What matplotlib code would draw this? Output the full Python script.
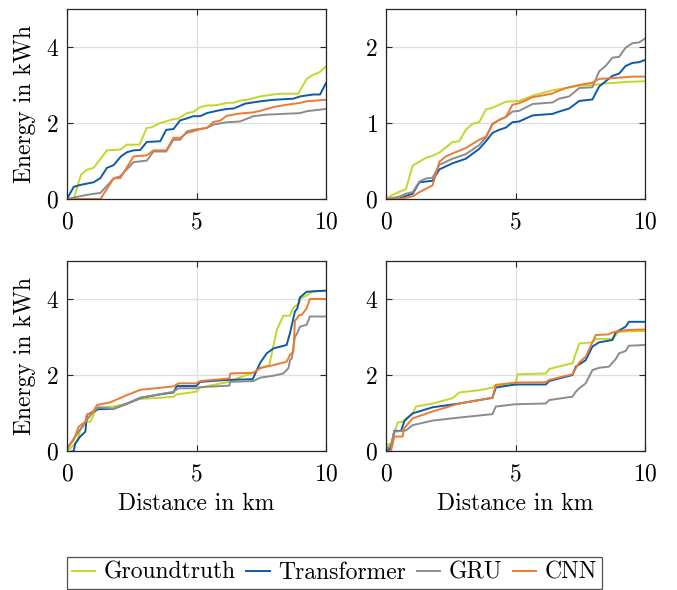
import matplotlib.pyplot as plt

# ---- data (distance in km, energy in kWh) ----
# panel 1 (top left)
gt1_x = [0, 0.26, 0.54, 0.77, 1.03, 1.54, 2.06, 2.31, 2.8, 3.08, 3.28, 3.6, 4.11, 4.3, 4.63, 4.88,
         5.14, 5.4, 5.78, 6.17, 6.43, 6.68, 6.94, 7.46, 7.97, 8.23, 8.93, 9.25, 9.51, 9.74, 10]
gt1_y = [0, 0, 0.64, 0.77, 0.82, 1.28, 1.30, 1.43, 1.43, 1.87, 1.89, 2.0, 2.1, 2.12, 2.26, 2.29,
         2.42, 2.46, 2.47, 2.53, 2.53, 2.59, 2.61, 2.7, 2.75, 2.77, 2.77, 3.16, 3.27, 3.33, 3.49]
tr1_x = [0, 0.26, 0.51, 1.03, 1.29, 1.54, 1.8, 2.08, 2.31, 2.57, 2.83, 3.08, 3.6, 3.83, 4.11, 4.37,
         4.63, 4.88, 5.14, 5.4, 5.78, 6.17, 6.43, 6.88, 7.46, 7.97, 8.74, 9.0, 9.51, 9.77, 10]
tr1_y = [0, 0.32, 0.37, 0.44, 0.55, 0.82, 0.89, 1.12, 1.23, 1.28, 1.29, 1.5, 1.52, 1.82, 1.84, 2.07,
         2.12, 2.18, 2.18, 2.26, 2.32, 2.37, 2.38, 2.51, 2.57, 2.61, 2.64, 2.7, 2.75, 2.75, 3.05]
gru1_x = [0, 0.77, 1.29, 1.8, 2.06, 2.57, 3.08, 3.34, 3.83, 4.11, 4.37, 4.63, 4.88, 5.4, 5.66,
          6.17, 6.68, 7.2, 7.71, 9.0, 9.25, 10]
gru1_y = [0, 0.11, 0.16, 0.54, 0.6, 0.97, 1.01, 1.25, 1.25, 1.56, 1.56, 1.78, 1.82, 1.87, 1.96,
          2.02, 2.04, 2.18, 2.22, 2.26, 2.31, 2.37]
cnn1_x = [0, 1.29, 1.8, 2.06, 2.57, 3.08, 3.34, 3.83, 4.11, 4.37, 4.63, 4.88, 5.14, 5.4, 5.66, 5.91,
          6.17, 6.68, 7.2, 7.46, 7.97, 8.48, 9.0, 9.25, 9.77, 10]
cnn1_y = [0, 0, 0.54, 0.55, 1.12, 1.15, 1.28, 1.28, 1.61, 1.61, 1.74, 1.78, 1.84, 1.87, 2.03, 2.06,
          2.19, 2.25, 2.28, 2.32, 2.42, 2.48, 2.53, 2.57, 2.6, 2.61]

# panel 2 (top right)
gt2_x = [0, 0.26, 0.77, 1.03, 1.54, 1.8, 2.06, 2.57, 2.83, 3.08, 3.34, 3.6, 3.86, 4.11, 4.63, 5.14,
         5.66, 6.43, 6.94, 7.46, 7.97, 8.48, 9.25, 10]
gt2_y = [0, 0.057, 0.13, 0.44, 0.54, 0.57, 0.61, 0.75, 0.76, 0.91, 0.99, 1.01, 1.18, 1.2, 1.28, 1.29,
         1.36, 1.43, 1.46, 1.49, 1.5, 1.52, 1.54, 1.55]
tr2_x = [0, 0.51, 0.77, 1.03, 1.29, 1.8, 2.06, 2.57, 3.08, 3.6, 3.86, 4.11, 4.37, 4.63, 4.88, 5.14,
         5.66, 6.43, 6.68, 7.07, 7.46, 7.97, 8.23, 8.74, 9.0, 9.25, 9.51, 9.77, 10]
tr2_y = [0, 0.005, 0.04, 0.07, 0.22, 0.24, 0.39, 0.47, 0.53, 0.66, 0.76, 0.87, 0.91, 0.94, 1.01, 1.02,
         1.1, 1.12, 1.15, 1.19, 1.29, 1.31, 1.48, 1.62, 1.65, 1.75, 1.79, 1.8, 1.83]
gru2_x = [0, 0.51, 0.77, 1.03, 1.29, 1.54, 1.8, 2.06, 2.57, 3.08, 3.6, 3.86, 4.11, 4.37, 4.63, 4.88,
          5.14, 5.66, 6.43, 6.68, 7.07, 7.46, 7.97, 8.23, 8.48, 8.74, 9.0, 9.25, 9.51, 9.77, 10]
gru2_y = [0, 0.03, 0.07, 0.09, 0.23, 0.27, 0.28, 0.45, 0.53, 0.59, 0.71, 0.81, 0.99, 1.04, 1.08, 1.15,
          1.16, 1.25, 1.27, 1.32, 1.35, 1.46, 1.47, 1.68, 1.75, 1.86, 1.87, 1.99, 2.05, 2.06, 2.11]
cnn2_x = [0, 0.51, 1.03, 1.29, 1.8, 2.06, 2.31, 2.57, 3.08, 3.6, 3.86, 4.11, 4.37, 4.63, 4.88, 5.14,
          5.66, 6.17, 6.43, 6.94, 7.46, 7.97, 8.23, 8.74, 9.51, 10]
cnn2_y = [0, 0, 0.035, 0.09, 0.18, 0.49, 0.56, 0.6, 0.67, 0.78, 0.82, 0.98, 1.04, 1.08, 1.24, 1.26,
          1.34, 1.37, 1.39, 1.46, 1.5, 1.53, 1.58, 1.59, 1.61, 1.61]

# panel 3 (bottom left)
gt3_x = [0, 0.13, 0.39, 0.51, 0.77, 0.9, 1.16, 1.8, 2.31, 2.83, 3.6, 4.11, 4.24, 4.99, 5.14, 5.66,
         6.27, 6.68, 7.2, 7.46, 7.81, 8.1, 8.35, 8.6, 8.74, 8.97, 9.02, 9.25, 9.51, 10]
gt3_y = [0, 0.07, 0.25, 0.55, 0.77, 0.77, 1.14, 1.17, 1.25, 1.37, 1.4, 1.43, 1.49, 1.56, 1.67, 1.74,
         1.82, 1.94, 2.06, 2.19, 2.26, 3.18, 3.56, 3.56, 3.77, 3.89, 4.02, 4.09, 4.21, 4.22]
tr3_x = [0, 0.26, 0.32, 0.51, 0.71, 0.77, 1.03, 1.22, 1.8, 2.31, 2.83, 3.6, 4.11, 4.24, 4.99, 5.14,
         6.17, 7.17, 7.46, 7.71, 7.97, 8.48, 8.61, 8.8, 8.89, 8.99, 9.25, 10]
tr3_y = [-0.04, 0, 0.2, 0.38, 0.51, 0.95, 1.04, 1.1, 1.11, 1.24, 1.4, 1.49, 1.54, 1.71, 1.71, 1.82,
         1.87, 1.89, 2.32, 2.57, 2.7, 2.79, 3.1, 3.67, 3.75, 4.04, 4.19, 4.22]
gru3_x = [0, 0.19, 0.45, 0.77, 1.03, 1.22, 1.8, 2.31, 2.83, 4.11, 4.3, 4.99, 5.14, 6.27, 6.3, 7.2,
          7.46, 7.97, 8.35, 8.55, 8.61, 8.68, 8.8, 8.89, 8.99, 9.25, 9.38, 10]
gru3_y = [0.03, 0.25, 0.51, 0.82, 1.04, 1.15, 1.11, 1.25, 1.4, 1.56, 1.65, 1.65, 1.68, 1.72, 1.82, 1.84,
          1.93, 1.98, 2.04, 2.18, 2.39, 2.44, 3.0, 3.1, 3.27, 3.32, 3.54, 3.54]
cnn3_x = [0, 0.26, 0.45, 0.71, 0.77, 0.96, 1.16, 1.67, 2.31, 2.83, 4.11, 4.3, 4.99, 5.14, 6.27, 6.3,
          7.2, 7.46, 7.97, 8.48, 8.61, 8.74, 8.8, 8.97, 9.06, 9.25, 9.38, 10]
cnn3_y = [0.09, 0.29, 0.64, 0.77, 0.96, 0.99, 1.21, 1.28, 1.47, 1.61, 1.7, 1.78, 1.78, 1.84, 1.91, 2.04,
          2.06, 2.18, 2.26, 2.35, 2.53, 2.61, 3.42, 3.58, 3.58, 3.75, 4.0, 4.0]

# panel 4 (bottom right)
gt4_x = [0, 0.06, 0.26, 0.32, 0.45, 0.64, 0.77, 1.03, 1.16, 1.8, 2.57, 2.83, 3.6, 4.11, 4.24, 4.99,
         5.08, 6.17, 6.3, 7.2, 7.46, 7.97, 8.1, 8.74, 9.0, 10]
gt4_y = [0.05, 0.18, 0.18, 0.46, 0.75, 0.77, 0.86, 0.99, 1.17, 1.25, 1.39, 1.54, 1.6, 1.67, 1.74, 1.74,
         2.02, 2.04, 2.16, 2.31, 2.83, 2.86, 2.95, 2.95, 3.14, 3.16]
tr4_x = [0, 0.19, 0.32, 0.58, 0.71, 1.03, 1.8, 2.83, 4.11, 4.24, 4.99, 6.17, 6.3, 7.2, 7.33, 7.71,
         7.97, 8.23, 8.74, 8.87, 9.25, 9.38, 10]
tr4_y = [0, 0.07, 0.53, 0.53, 0.79, 0.99, 1.15, 1.25, 1.4, 1.67, 1.75, 1.75, 1.84, 2.0, 2.22, 2.39,
         2.75, 2.86, 2.92, 3.12, 3.27, 3.4, 3.4]
gru4_x = [0, 0.19, 0.32, 0.77, 1.03, 1.8, 2.83, 4.11, 4.24, 4.99, 6.17, 6.3, 7.2, 7.33, 7.46, 7.71,
          7.97, 8.23, 8.61, 8.87, 9.0, 9.25, 9.38, 10]
gru4_y = [0.03, 0.16, 0.51, 0.54, 0.68, 0.8, 0.88, 0.97, 1.17, 1.23, 1.25, 1.34, 1.43, 1.56, 1.65, 1.78,
          2.13, 2.19, 2.22, 2.42, 2.57, 2.63, 2.77, 2.79]
cnn4_x = [0, 0.19, 0.32, 0.64, 0.71, 1.03, 1.8, 2.83, 4.11, 4.24, 4.99, 6.17, 6.3, 7.2, 7.46, 7.71,
          7.97, 8.1, 8.61, 8.74, 9.25, 10]
cnn4_y = [-0.03, 0, 0.38, 0.38, 0.61, 0.86, 1.04, 1.25, 1.4, 1.74, 1.8, 1.81, 1.87, 2.02, 2.33, 2.48,
          2.86, 3.05, 3.07, 3.12, 3.18, 3.2]

series_names = ['Groundtruth', 'Transformer', 'GRU', 'CNN']
series_colors = ['#c5d62a', '#0d5aa7', '#8c8c8c', '#ee7a32']
y_limits = [(0, 5), (0, 2.5), (0, 5), (0, 5)]
y_ticks = [[0, 2, 4], [0, 1, 2], [0, 2, 4], [0, 2, 4]]
x_ticks = [0, 5, 10]

panels = [
    [(gt1_x, gt1_y), (tr1_x, tr1_y), (gru1_x, gru1_y), (cnn1_x, cnn1_y)],
    [(gt2_x, gt2_y), (tr2_x, tr2_y), (gru2_x, gru2_y), (cnn2_x, cnn2_y)],
    [(gt3_x, gt3_y), (tr3_x, tr3_y), (gru3_x, gru3_y), (cnn3_x, cnn3_y)],
    [(gt4_x, gt4_y), (tr4_x, tr4_y), (gru4_x, gru4_y), (cnn4_x, cnn4_y)],
]

plt.rcParams['font.family'] = 'serif'
plt.rcParams['font.serif'] = ['cmr10', 'DejaVu Serif']
plt.rcParams['mathtext.fontset'] = 'cm'
plt.rcParams['axes.formatter.use_mathtext'] = True
plt.rcParams['axes.unicode_minus'] = False

fig = plt.figure(figsize=(6.77, 5.90), dpi=100)
W, H = 677, 590
boxes = [(67, 9), (386, 9), (67, 261), (386, 261)]  # left, top in px
aw, ah = 259, 190
fs = 17

axes = []
for i, (lx, ty) in enumerate(boxes):
    ax = fig.add_axes([lx / W, 1 - (ty + ah) / H, aw / W, ah / H])
    for k, (xs, ys) in enumerate(panels[i]):
        ax.plot(xs, ys, color=series_colors[k], lw=1.4, label=series_names[k])
    ax.set_xlim(0, 10)
    ax.set_ylim(*y_limits[i])
    ax.set_xticks(x_ticks)
    ax.set_yticks(y_ticks[i])
    ax.grid(True, color='#dedede', lw=0.9)
    ax.set_axisbelow(True)
    ax.tick_params(direction='in', top=True, right=True, length=4, width=0.8,
                   color='#262626', labelsize=fs)
    ax.tick_params(axis='x', pad=9)
    ax.tick_params(axis='y', pad=6)
    for s in ax.spines.values():
        s.set_color('#262626')
        s.set_linewidth(0.9)
    if i % 2 == 0:
        ax.set_ylabel('Energy in kWh', fontsize=fs, labelpad=7)
    if i >= 2:
        ax.set_xlabel('Distance in km', fontsize=fs, labelpad=5)
    axes.append(ax)

handles, labels = axes[0].get_legend_handles_labels()
leg = fig.legend(handles, labels, loc='upper left', bbox_to_anchor=(67 / W, 1 - 557 / H),
                 ncol=4, fontsize=fs, frameon=True, fancybox=False, edgecolor='#262626',
                 handlelength=1.0, handletextpad=0.35, columnspacing=0.45, borderpad=0.2,
                 borderaxespad=0)
leg.get_frame().set_linewidth(0.9)

fig.savefig('out.png', dpi=100)
